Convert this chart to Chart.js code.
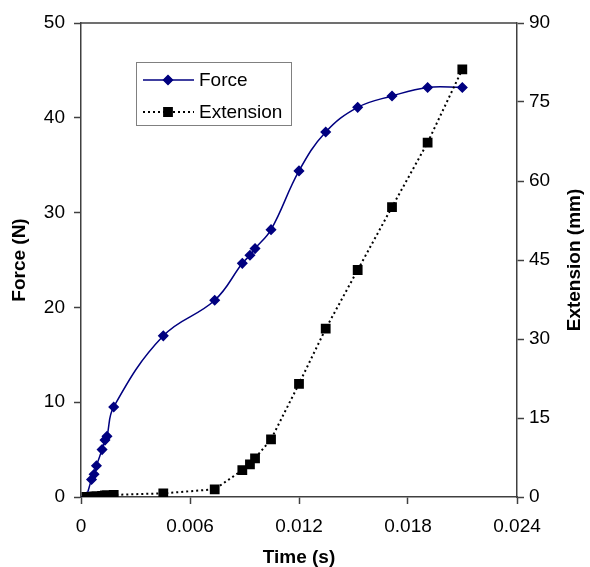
<!DOCTYPE html>
<html>
<head>
<meta charset="utf-8">
<script src="https://cdn.jsdelivr.net/npm/chart.js@4"></script>
<style>
  html, body { margin: 0; padding: 0; background: #fff; }
  canvas { display: block; }
</style>
</head>
<body>
<canvas id="chart" width="590" height="567"></canvas>
<script>
Chart.defaults.font.family = "'Liberation Sans', Arial, sans-serif";
Chart.defaults.font.size = 19;
Chart.defaults.color = "#000";

// time (s) of each sample, shared by both series
const time = [0.0003, 0.00058, 0.00072, 0.00085, 0.00116, 0.00132, 0.00143, 0.0018,
  0.00453, 0.00736, 0.00888, 0.0093, 0.00958, 0.01046, 0.012, 0.01347,
  0.01523, 0.01712, 0.01908, 0.02099];
const force = [0, 1.85, 2.4, 3.3, 5.0, 6.0, 6.4, 9.5,
  17.0, 20.75, 24.65, 25.5, 26.2, 28.2, 34.4, 38.5,
  41.1, 42.3, 43.2, 43.2];
const extension = [0, 0, 0.1, 0.1, 0.2, 0.3, 0.3, 0.4,
  0.7, 1.46, 5.1, 6.2, 7.35, 10.95, 21.5, 31.95,
  43.1, 55.06, 67.3, 81.2];

const xTicks = [0, 0.006, 0.012, 0.018, 0.024];
const forceTicks = [0, 10, 20, 30, 40, 50];
const extTicks = [0, 15, 30, 45, 60, 75, 90];

const axisColor = "#404040";
const blue = "#000080";

const pts = (ys) => time.map((t, i) => ({ x: t, y: ys[i] }));

// top frame line, right-hand title and the boxed legend
const extras = {
  id: "extras",
  afterDraw(chart) {
    const { ctx, chartArea: a } = chart;
    ctx.save();
    ctx.strokeStyle = axisColor;
    ctx.lineWidth = 1.5;
    ctx.beginPath();
    ctx.moveTo(a.left, a.top);
    ctx.lineTo(a.right, a.top);
    ctx.stroke();

    ctx.fillStyle = "#000";
    ctx.font = "bold 19px 'Liberation Sans', Arial, sans-serif";
    ctx.textAlign = "center";
    ctx.textBaseline = "middle";
    ctx.translate(575, (a.top + a.bottom) / 2);
    ctx.rotate(-Math.PI / 2);
    ctx.fillText("Extension (mm)", 0, 0);
    ctx.restore();

    ctx.save();
    ctx.strokeStyle = "#808080";
    ctx.lineWidth = 1;
    ctx.strokeRect(136.5, 62.5, 155, 63);
    ctx.font = "19px 'Liberation Sans', Arial, sans-serif";
    ctx.textBaseline = "middle";
    const rows = [80, 112];
    chart.data.datasets.forEach((ds, i) => {
      const y = rows[i];
      ctx.strokeStyle = ds.borderColor;
      ctx.lineWidth = ds.borderWidth;
      ctx.setLineDash(ds.borderDash || []);
      ctx.beginPath();
      ctx.moveTo(143, y);
      ctx.lineTo(194, y);
      ctx.stroke();
      ctx.setLineDash([]);
      Chart.helpers.drawPoint(ctx, {
        pointStyle: ds.pointStyle, radius: ds.pointRadius, borderWidth: 1
      }, 168, y);
      ctx.fillStyle = ds.backgroundColor;
      ctx.fill();
      ctx.fillStyle = "#000";
      ctx.fillText(ds.label, 199, y + 1);
    });
    ctx.restore();
  }
};

const config = {
  type: "scatter",
  data: {
    datasets: [
      {
        label: "Force",
        data: pts(force),
        yAxisID: "y",
        showLine: true,
        borderColor: blue,
        backgroundColor: blue,
        borderWidth: 1.5,
        pointStyle: "rectRot",
        pointRadius: 4.5,
        tension: 0.4,
        order: 1,
      },
      {
        label: "Extension",
        data: pts(extension),
        yAxisID: "y2",
        showLine: true,
        borderColor: "#000",
        backgroundColor: "#000",
        borderWidth: 2,
        borderDash: [2, 3],
        pointStyle: "rect",
        pointRadius: 5.5,
        tension: 0,
        order: 0,
      },
    ],
  },
  options: {
    responsive: false,
    animation: false,
    devicePixelRatio: 1,
    layout: { padding: { top: 23, left: 0, right: 0, bottom: 0 } },
    plugins: { legend: { display: false }, tooltip: { enabled: false } },
    scales: {
      x: {
        type: "linear",
        min: 0,
        max: 0.024,
        afterFit: (s) => { s.height = 70; },
        afterBuildTicks: (s) => { s.ticks = xTicks.map((v) => ({ value: v })); },
        ticks: {
          padding: 11,
          callback: (v) => (v === 0 ? "0" : v.toFixed(3)),
        },
        grid: { drawOnChartArea: false, tickLength: 7, tickColor: axisColor, tickWidth: 1.5 },
        border: { color: axisColor, width: 1.5 },
        title: {
          display: true,
          text: "Time (s)",
          font: { weight: "bold", size: 19, lineHeight: 1 },
          padding: { top: 0, bottom: 0 },
        },
      },
      y: {
        position: "left",
        min: 0,
        max: 50,
        afterFit: (s) => { s.width = 81; },
        afterBuildTicks: (s) => { s.ticks = forceTicks.map((v) => ({ value: v })); },
        ticks: { padding: 9 },
        grid: { drawOnChartArea: false, tickLength: 7, tickColor: axisColor, tickWidth: 1.5 },
        border: { color: axisColor, width: 1.5 },
        title: {
          display: true,
          text: "Force (N)",
          font: { weight: "bold", size: 19, lineHeight: 1 },
          padding: { top: 10.5, bottom: 0 },
        },
      },
      y2: {
        position: "right",
        min: 0,
        max: 90,
        afterFit: (s) => { s.width = 73; },
        afterBuildTicks: (s) => { s.ticks = extTicks.map((v) => ({ value: v })); },
        ticks: { padding: 5 },
        grid: { drawOnChartArea: false, tickLength: 7, tickColor: axisColor, tickWidth: 1.5 },
        border: { color: axisColor, width: 1.5 },
      },
    },
  },
  plugins: [extras],
};

const chart = new Chart(document.getElementById("chart"), config);
</script>
</body>
</html>
